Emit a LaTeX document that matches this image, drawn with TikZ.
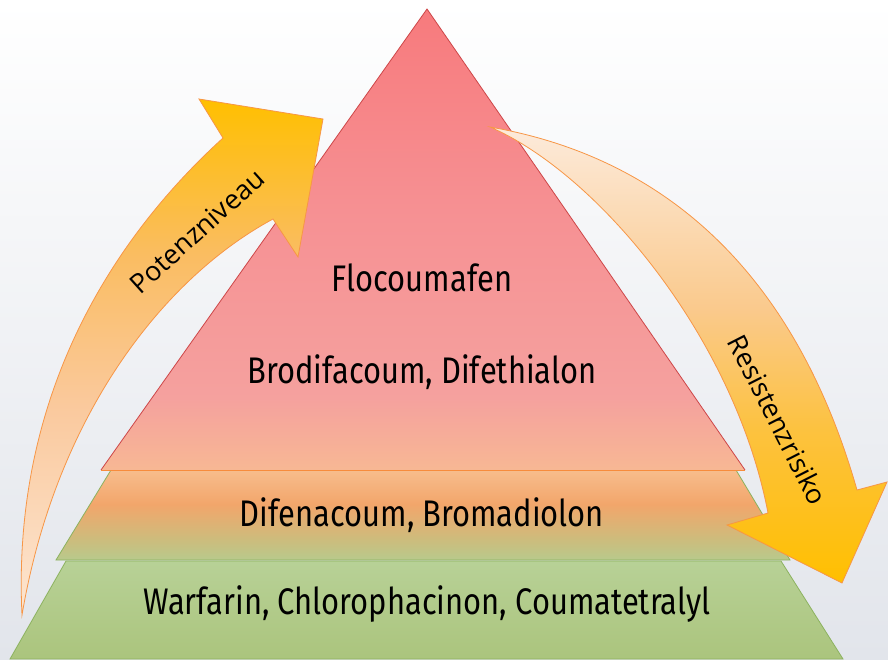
\documentclass[tikz,border=0pt]{standalone}
\usepackage{fontspec}
\newfontfamily\levelfont[FakeStretch=0.835]{Fira Sans}
\newfontfamily\arrowfont{Open Sans}
\usetikzlibrary{shadings}

\definecolor{bgbottom}{RGB}{226,229,235}
\definecolor{redline}{RGB}{205,70,72}
\definecolor{orangeline}{RGB}{247,140,60}
\definecolor{greenline}{RGB}{140,178,95}
\definecolor{arrowline}{RGB}{247,150,70}

\pgfdeclareverticalshading{redlevel}{100bp}{rgb(0bp)=(0.97,0.72,0.58);rgb(25bp)=(0.97,0.72,0.58);rgb(33bp)=(0.96,0.63,0.62);rgb(52bp)=(0.965,0.57,0.58);rgb(75bp)=(0.97,0.48,0.49);rgb(100bp)=(0.97,0.48,0.49)}
\pgfdeclareverticalshading{orangelevel}{100bp}{rgb(0bp)=(0.72,0.79,0.55);rgb(25bp)=(0.72,0.79,0.55);rgb(36bp)=(0.80,0.74,0.49);rgb(56bp)=(0.95,0.65,0.42);rgb(75bp)=(0.97,0.74,0.55);rgb(100bp)=(0.97,0.74,0.55)}
\pgfdeclareverticalshading{greenlevel}{100bp}{rgb(0bp)=(0.67,0.77,0.49);rgb(25bp)=(0.67,0.77,0.49);rgb(75bp)=(0.72,0.82,0.59);rgb(100bp)=(0.72,0.82,0.59)}
\pgfdeclareverticalshading{uparrow}{100bp}{rgb(0bp)=(0.99,0.90,0.82);rgb(25bp)=(0.99,0.90,0.82);rgb(45bp)=(0.98,0.79,0.62);rgb(60bp)=(0.98,0.74,0.38);rgb(75bp)=(1,0.75,0);rgb(100bp)=(1,0.75,0)}
\pgfdeclareverticalshading{downarrow}{100bp}{rgb(0bp)=(1,0.75,0);rgb(25bp)=(1,0.75,0);rgb(42bp)=(0.99,0.76,0.25);rgb(55bp)=(0.98,0.79,0.55);rgb(75bp)=(0.99,0.92,0.86);rgb(100bp)=(0.99,0.92,0.86)}

\tikzset{
  level/.style={font=\levelfont\fontsize{37}{42}\selectfont, inner sep=0pt},
  arrowlabel/.style={font=\arrowfont\fontsize{27}{30}\selectfont, inner sep=0pt},
  bigarrow/.style={draw=arrowline, line width=0.8pt, line join=miter}
}

\begin{document}
\begin{tikzpicture}[x=1pt,y=-1pt]
\useasboundingbox (0,0) rectangle (888,659);
\shade[top color=white, bottom color=bgbottom] (0,0) rectangle (888,659);

% pyramid levels
\shade[shading=greenlevel, draw=greenline, line width=0.8pt] (66,561) -- (781,561) -- (843,659) -- (10,659) -- cycle;
\shade[shading=orangelevel, draw=greenline, line width=0.8pt] (111,470) -- (736,470) -- (790,560) -- (56,560) -- cycle;
\draw[orangeline, line width=0.8pt] (111,470) -- (736,470);
\shade[shading=redlevel] (427,9) -- (745,470) -- (101,470) -- cycle;
\draw[redline, line width=0.8pt] (101,470) -- (427,9) -- (745,470);
\draw[orangeline, line width=0.8pt] (101,470) -- (745,470);

% curved arrows
\coordinate (uptail) at (22,615);
\coordinate (downtail) at (490,127);
\shade[shading=uparrow, bigarrow] (uptail) .. controls (12,410) and (100,250) .. (223,138)
  -- (199,99) -- (323,119) -- (298,257) -- (273,219)
  .. controls (160,280) and (55,420) .. (uptail) -- cycle;
\shade[shading=downarrow, bigarrow] (downtail) .. controls (680,160) and (800,290) .. (857,490)
  -- (887,482) -- (842,583) -- (727,525) -- (768,513)
  .. controls (735,340) and (600,175) .. (downtail) -- cycle;

% texts
\node[level] (top) at (422,278) {Flocoumafen};
\node[level] (upper) at (422,372) {Brodifacoum, Difethialon};
\node[level] (middle) at (422,515) {Difenacoum, Bromadiolon};
\node[level] (bottom) at (427,604) {Warfarin, Chlorophacinon, Coumatetralyl};
\node[arrowlabel, rotate=42] (potenz) at (197,231) {Potenzniveau};
\node[arrowlabel, rotate=-63] (resist) at (778,420) {Resistenzrisiko};
\end{tikzpicture}
\end{document}
